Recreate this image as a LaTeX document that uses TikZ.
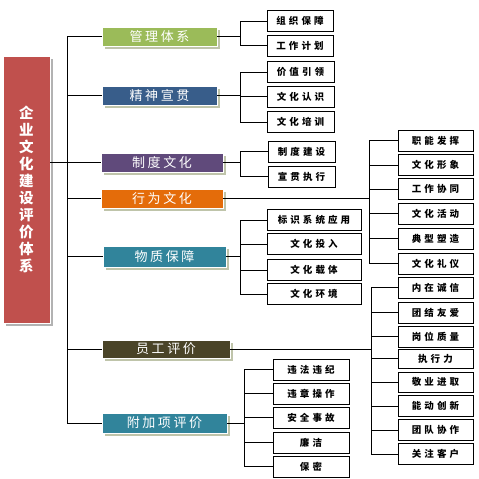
\documentclass[tikz,border=0pt]{standalone}
\usepackage{fontspec}
\newfontfamily\cjk{Noto Sans CJK SC}
\newfontfamily\cjkwide{Noto Sans CJK SC}[LetterSpace=32]
\newfontfamily\cjkmid{Noto Sans CJK SC}[LetterSpace=20]
\usetikzlibrary{shadows}
\definecolor{rootred}{HTML}{C0504D}
\definecolor{mgreen}{HTML}{9BBB59}
\definecolor{mblue}{HTML}{385D8A}
\definecolor{mpurple}{HTML}{604A7B}
\definecolor{morange}{HTML}{E46C0A}
\definecolor{mteal}{HTML}{31849B}
\definecolor{molive}{HTML}{4A4428}
\definecolor{shadegreen}{HTML}{BFC4AA}

\begin{document}
\begin{tikzpicture}[x=1pt,y=-1pt,
    line width=0.8pt,
    rootbox/.style={fill=rootred, draw=white, line width=0.6pt, text=white,
      minimum width=47pt, minimum height=267pt, inner sep=0pt, align=center,
      font=\cjk\bfseries\fontsize{14.5}{17}\selectfont,
      drop shadow={shadow xshift=2.5pt, shadow yshift=-2.5pt, fill=gray!60, opacity=1}},
    topic/.style={fill=#1, draw=white, line width=0.6pt, text=white,
      minimum height=19pt, inner sep=0pt,
      font=\cjkmid\fontsize{13}{14}\selectfont,
      drop shadow={shadow xshift=2.5pt, shadow yshift=-2.5pt, fill=shadegreen, opacity=1}},
    leaf/.style={draw=black, line width=1pt, fill=white,
      minimum height=21pt, inner sep=0pt,
      font=\cjkwide\bfseries\fontsize{9.5}{10}\selectfont}]

  \useasboundingbox (0,0) rectangle (479,479);

  % root
  \node[rootbox] (root) at (26.5,189.5) {企\\业\\文\\化\\建\\设\\评\\价\\体\\系};

  % first level
  \node[topic=mgreen,  minimum width=115pt] (gl) at (159.5,36.5) {管理体系};
  \node[topic=mblue,   minimum width=115pt] (jx) at (159.5,95.5) {精神宣贯};
  \node[topic=mpurple, minimum width=122pt] (zd) at (162,162.5) {制度文化};
  \node[topic=morange, minimum width=122pt] (xw) at (162,198.5) {行为文化};
  \node[topic=mteal,   minimum width=123pt, minimum height=21pt] (wz) at (164.5,256.5) {物质保障};
  \node[topic=molive,  minimum width=128pt, minimum height=18pt] (yg) at (166,349) {员工评价};
  \node[topic=mteal,   minimum width=125pt, minimum height=20pt] (fj) at (164.5,423) {附加项评价};

  \coordinate (trunk) at (67,0);
  \draw (trunk |- gl.west) -- (trunk |- fj.west);
  \draw (root.east |- zd.west) -- (zd.west);
  \draw (trunk |- gl.west) -- (gl.west);
  \draw (trunk |- jx.west) -- (jx.west);
  \draw (trunk |- xw.west) -- (xw.west);
  \draw (trunk |- wz.west) -- (wz.west);
  \draw (trunk |- yg.west) -- (yg.west);
  \draw (trunk |- fj.west) -- (fj.west);

  % 管理体系
  \node[leaf, minimum width=66pt] (gl1) at (300,21) {组织保障};
  \node[leaf, minimum width=66pt] (gl2) at (300,45.5) {工作计划};
  \coordinate (bgl) at (240,0);
  \draw (gl.east) -- (bgl |- gl.east);
  \draw (bgl |- gl1.west) -- (bgl |- gl2.west);
  \draw (bgl |- gl1.west) -- (gl1.west) (bgl |- gl2.west) -- (gl2.west);

  % 精神宣贯
  \node[leaf, minimum width=67pt] (jx1) at (300.5,72) {价值引领};
  \node[leaf, minimum width=67pt] (jx2) at (300.5,96.5) {文化认识};
  \node[leaf, minimum width=67pt] (jx3) at (300.5,122) {文化培训};
  \coordinate (bjx) at (240,0);
  \draw (jx.east) -- (bjx |- jx.east);
  \draw (bjx |- jx1.west) -- (bjx |- jx3.west);
  \draw (bjx |- jx1.west) -- (jx1.west) (bjx |- jx2.west) -- (jx2.west)
        (bjx |- jx3.west) -- (jx3.west);

  % 制度文化
  \node[leaf, minimum width=67pt] (zd1) at (301.5,151.5) {制度建设};
  \node[leaf, minimum width=67pt] (zd2) at (301.5,176.5) {宣贯执行};
  \coordinate (bzd) at (240,0);
  \draw (zd.east) -- (bzd |- zd.east);
  \draw (bzd |- zd1.west) -- (bzd |- zd2.west);
  \draw (bzd |- zd1.west) -- (zd1.west) (bzd |- zd2.west) -- (zd2.west);

  % 行为文化
  \node[leaf, minimum width=75pt] (xw1) at (435.5,140.5) {职能发挥};
  \node[leaf, minimum width=75pt] (xw2) at (435.5,165) {文化形象};
  \node[leaf, minimum width=75pt] (xw3) at (435.5,189) {工作协同};
  \node[leaf, minimum width=75pt] (xw4) at (435.5,213.5) {文化活动};
  \node[leaf, minimum width=75pt] (xw5) at (435.5,238.5) {典型塑造};
  \node[leaf, minimum width=75pt] (xw6) at (435.5,263.5) {文化礼仪};
  \coordinate (bxw) at (369,0);
  \draw (xw.east) -- (bxw |- xw.east);
  \draw (bxw |- xw1.west) -- (bxw |- xw6.west);
  \draw (bxw |- xw1.west) -- (xw1.west) (bxw |- xw2.west) -- (xw2.west)
        (bxw |- xw3.west) -- (xw3.west) (bxw |- xw4.west) -- (xw4.west)
        (bxw |- xw5.west) -- (xw5.west) (bxw |- xw6.west) -- (xw6.west);

  % 物质保障
  \node[leaf, minimum width=94pt] (wz1) at (314,220) {标识系统应用};
  \node[leaf, minimum width=94pt] (wz2) at (314,244) {文化投入};
  \node[leaf, minimum width=94pt] (wz3) at (314,270) {文化载体};
  \node[leaf, minimum width=94pt] (wz4) at (314,294) {文化环境};
  \coordinate (bwz) at (240,0);
  \draw (wz.east) -- (bwz |- wz.east);
  \draw (bwz |- wz1.west) -- (bwz |- wz4.west);
  \draw (bwz |- wz1.west) -- (wz1.west) (bwz |- wz2.west) -- (wz2.west)
        (bwz |- wz3.west) -- (wz3.west) (bwz |- wz4.west) -- (wz4.west);

  % 员工评价
  \node[leaf, minimum width=75pt] (yg1) at (435.5,287.5) {内在诚信};
  \node[leaf, minimum width=75pt] (yg2) at (435.5,312.5) {团结友爱};
  \node[leaf, minimum width=75pt] (yg3) at (435.5,336.5) {岗位质量};
  \node[leaf, minimum width=75pt, minimum height=19pt] (yg4) at (435.5,358.5) {执行力};
  \node[leaf, minimum width=75pt, minimum height=20pt] (yg5) at (435.5,382) {敬业进取};
  \node[leaf, minimum width=75pt] (yg6) at (435.5,406) {能动创新};
  \node[leaf, minimum width=75pt] (yg7) at (435.5,430) {团队协作};
  \node[leaf, minimum width=75pt] (yg8) at (435.5,454) {关注客户};
  \coordinate (byg) at (371,0);
  \draw (yg.east) -- (byg |- yg.east);
  \draw (byg |- yg1.west) -- (byg |- yg8.west);
  \draw (byg |- yg1.west) -- (yg1.west) (byg |- yg2.west) -- (yg2.west)
        (byg |- yg3.west) -- (yg3.west) (byg |- yg4.west) -- (yg4.west)
        (byg |- yg5.west) -- (yg5.west) (byg |- yg6.west) -- (yg6.west)
        (byg |- yg7.west) -- (yg7.west) (byg |- yg8.west) -- (yg8.west);

  % 附加项评价
  \node[leaf, minimum width=76pt] (fj1) at (311,369.5) {违法违纪};
  \node[leaf, minimum width=76pt] (fj2) at (311,393.5) {违章操作};
  \node[leaf, minimum width=76pt] (fj3) at (311,417.5) {安全事故};
  \node[leaf, minimum width=76pt] (fj4) at (311,442.5) {廉洁};
  \node[leaf, minimum width=76pt] (fj5) at (311,466.5) {保密};
  \coordinate (bfj) at (244,0);
  \draw (fj.east) -- (bfj |- fj.east);
  \draw (bfj |- fj1.west) -- (bfj |- fj5.west);
  \draw (bfj |- fj1.west) -- (fj1.west) (bfj |- fj2.west) -- (fj2.west)
        (bfj |- fj3.west) -- (fj3.west) (bfj |- fj4.west) -- (fj4.west)
        (bfj |- fj5.west) -- (fj5.west);

\end{tikzpicture}
\end{document}
